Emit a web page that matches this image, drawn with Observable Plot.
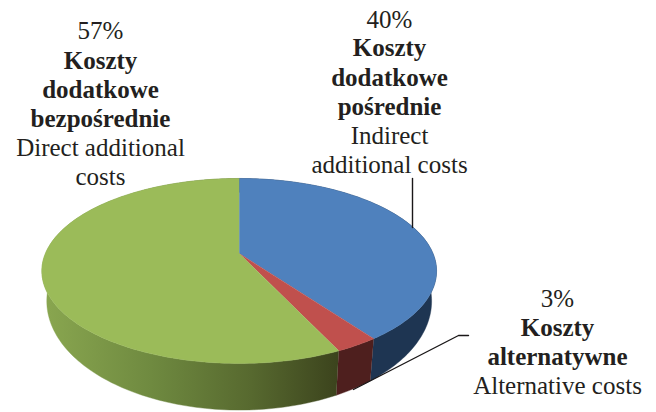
<!DOCTYPE html>
<html>
<head>
<meta charset="utf-8">
<script src="https://cdn.jsdelivr.net/npm/d3@7"></script>
<script src="https://cdn.jsdelivr.net/npm/@observablehq/plot@0.6"></script>
<style>html,body{margin:0;padding:0;background:#fff}svg{display:block}</style>
</head>
<body>
<div id="chart"></div>
<script>
// Data: clockwise from twelve o'clock
const categories = ["Indirect additional costs", "Alternative costs", "Direct additional costs"];
const shares = [40, 3, 57];
const topColors = ["#4f81bd", "#c0504d", "#9bbb59"];
const sideColors = ["#1e3552", "#4e1f1e", "url(#sideGreen)"];

// Text
const regularLines = ["57%", "Direct additional", "costs", "40%", "Indirect", "additional costs", "3%", "Alternative costs"];
const regularX = [100, 100, 100, 389, 389, 389, 557, 557];
const regularY = [38, 155, 184, 27, 143, 172, 306, 393];
const boldLines = ["Koszty", "dodatkowe", "bezpośrednie", "Koszty", "dodatkowe", "pośrednie", "Koszty", "alternatywne"];
const boldX = [100, 100, 100, 389, 389, 389, 557, 557];
const boldY = [68, 97, 126, 55, 85, 114, 335, 364];

// Leader lines
const leaderX = [[412, 412], [468, 458, 353]];
const leaderY = [[178, 227], [335, 335, 389]];

// 3D view: perspective pie
const apexX = 238.7, apexY = 253, radiusX = 193.8, radiusY = 89.2, persp = 0.189;
const baseScaleX = 0.975, baseScaleY = 1.178, baseOffset = 27;
function rim(turn, base) {
  const t = turn * 2 * Math.PI, u = Math.sin(t), v = Math.cos(t), d = 1 + persp * v;
  const X = radiusX * u / d, Y = radiusY * v / d;
  return base
    ? {x: apexX + baseScaleX * X, y: apexY + baseOffset - baseScaleY * Y}
    : {x: apexX + X, y: apexY - Y};
}

const sides = [], tops = [];
let acc = 0;
shares.forEach((s, i) => {
  const a = acc / 100, b = (acc + s) / 100; acc += s;
  const n = Math.ceil(s * 3);
  const turns = d3.range(n + 1).map(k => a + (b - a) * k / n);
  const side = [...turns.map(t => rim(t, false)), ...turns.slice().reverse().map(t => rim(t, true))];
  sides.push(side);
  tops.push([{x: apexX, y: apexY}, ...turns.map(t => rim(t, false))]);
});

const leaders = leaderX.flatMap((xs, i) => xs.map((x, k) => ({x, y: leaderY[i][k], id: i})));
const font = {fontFamily: "'Liberation Serif', serif", fontSize: 25, fill: "#231f20", textAnchor: "middle", lineAnchor: "bottom"};

const defs = () => {
  const ns = "http://www.w3.org/2000/svg";
  const d = document.createElementNS(ns, "defs");
  const g = document.createElementNS(ns, "linearGradient");
  g.setAttribute("id", "sideGreen");
  g.setAttribute("gradientUnits", "userSpaceOnUse");
  g.setAttribute("x1", 41); g.setAttribute("x2", 336); g.setAttribute("y1", 0); g.setAttribute("y2", 0);
  [[0, "#8aa750"], [0.37, "#6f8a40"], [0.71, "#57692f"], [1, "#3c441d"]].forEach(([o, c]) => {
    const st = document.createElementNS(ns, "stop");
    st.setAttribute("offset", o); st.setAttribute("stop-color", c);
    g.append(st);
  });
  d.append(g);
  return d;
};

const plot = Plot.plot({
  width: 656, height: 412, margin: 0,
  style: {background: "#fff"},
  x: {domain: [0, 656], range: [0, 656], axis: null},
  y: {domain: [0, 412], range: [0, 412], axis: null},
  marks: [
    defs,
    ...sides.map((p, i) => Plot.line(p, {x: "x", y: "y", fill: sideColors[i], stroke: sideColors[i], strokeWidth: 0.4})),
    ...tops.map((p, i) => Plot.line(p, {x: "x", y: "y", fill: topColors[i], stroke: topColors[i], strokeWidth: 0.4})),
    Plot.line(leaders, {x: "x", y: "y", z: "id", stroke: "#1a1718", strokeWidth: 1.4}),
    Plot.text(regularLines, {...font, x: (d, i) => regularX[i], y: (d, i) => regularY[i], text: d => d}),
    Plot.text(boldLines, {...font, fontWeight: "bold", x: (d, i) => boldX[i], y: (d, i) => boldY[i], text: d => d})
  ]
});
document.getElementById("chart").append(plot);
</script>
</body>
</html>
